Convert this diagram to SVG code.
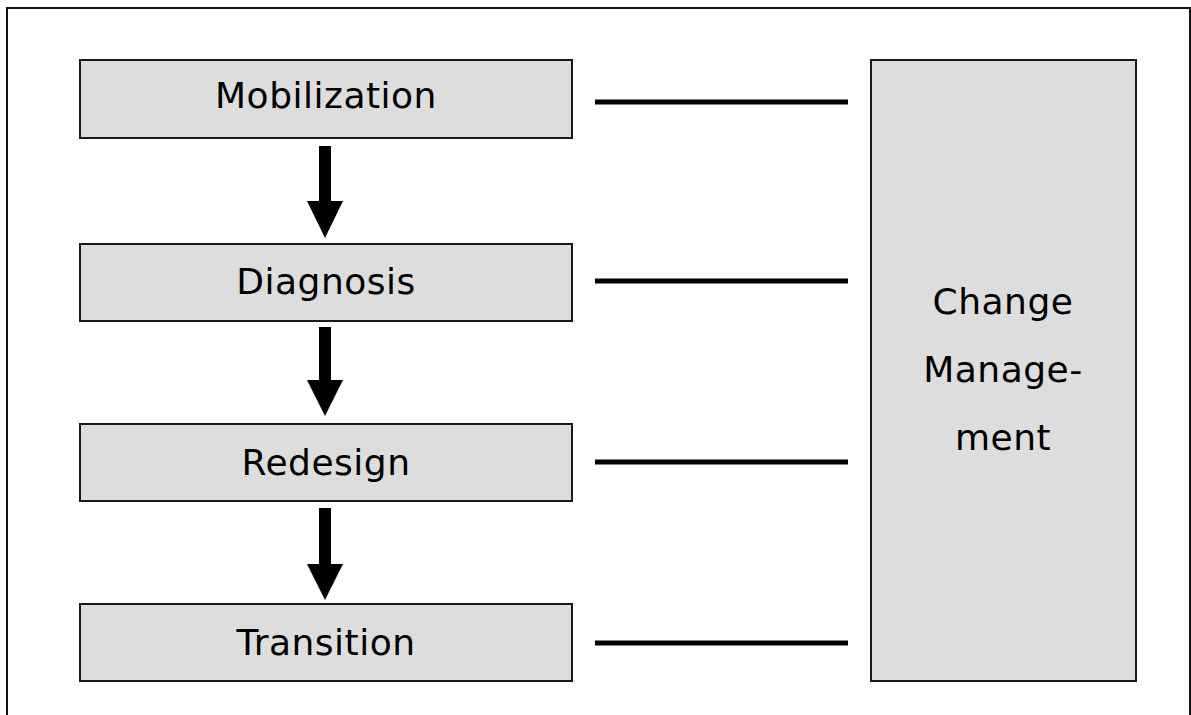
<svg xmlns="http://www.w3.org/2000/svg" width="1191" height="715" viewBox="0 0 1191 715">
  <style>
    .frame { fill: #ffffff; stroke: #111111; stroke-width: 2; }
    .box { fill: #dddddd; stroke: #1a1a1a; stroke-width: 2; }
    .label { font-family: "DejaVu Sans", Verdana, sans-serif; font-size: 36px; letter-spacing: 0.5px; fill: #000000; text-anchor: middle; }
    .link { stroke: #000000; stroke-width: 5; fill: none; }
    .arrow { fill: #000000; }
  </style>

  <!-- page frame -->
  <rect class="frame" x="7" y="8" width="1183" height="720"/>

  <!-- phase nodes -->
  <g id="mobilization">
    <rect class="box" x="80" y="60" width="492" height="78"/>
    <text class="label" x="326" y="108">Mobilization</text>
  </g>
  <g id="diagnosis">
    <rect class="box" x="80" y="244" width="492" height="77"/>
    <text class="label" x="326" y="294">Diagnosis</text>
  </g>
  <g id="redesign">
    <rect class="box" x="80" y="424" width="492" height="77"/>
    <text class="label" x="326" y="475">Redesign</text>
  </g>
  <g id="transition">
    <rect class="box" x="80" y="604" width="492" height="77"/>
    <text class="label" x="326" y="655">Transition</text>
  </g>

  <!-- change management column -->
  <g id="change-management">
    <rect class="box" x="871" y="60" width="265" height="621"/>
    <text class="label" x="1003" y="314">Change</text>
    <text class="label" x="1003" y="382">Manage-</text>
    <text class="label" x="1003" y="450">ment</text>
  </g>

  <!-- connectors -->
  <g id="connectors">
    <path class="arrow" d="M319 146 H331 V201 H343 L325 238 L307 201 H319 Z"/>
    <path class="arrow" d="M319 327 H331 V380 H343 L325 416 L307 380 H319 Z"/>
    <path class="arrow" d="M319 508 H331 V564 H343 L325 600 L307 564 H319 Z"/>
    <line class="link" x1="595" y1="102" x2="848" y2="102"/>
    <line class="link" x1="595" y1="281" x2="848" y2="281"/>
    <line class="link" x1="595" y1="462" x2="848" y2="462"/>
    <line class="link" x1="595" y1="643" x2="848" y2="643"/>
  </g>
</svg>
